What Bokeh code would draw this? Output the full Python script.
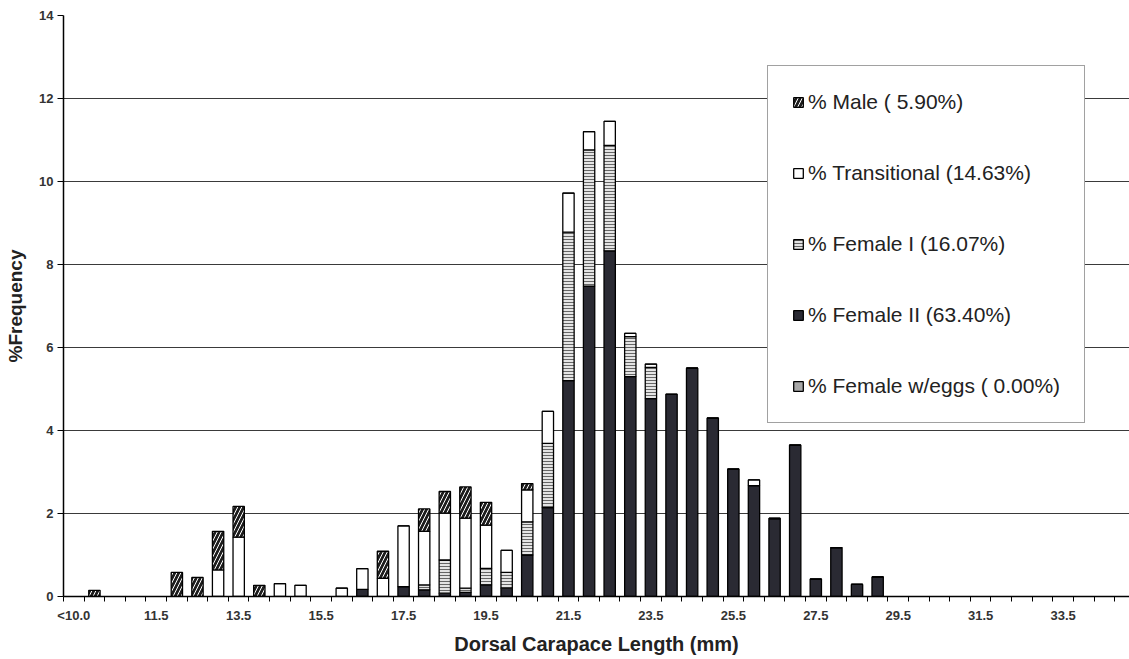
from bokeh.plotting import figure
from bokeh.models import ColumnDataSource, FixedTicker, Legend, LegendItem, Range1d, CDSView, BooleanFilter
from bokeh.embed import file_html
from bokeh.resources import INLINE

# ---------------- data ----------------
cats = ["<10.0", "10.0", "10.5", "11.0", "11.5", "12.0", "12.5", "13.0", "13.5", "14.0",
        "14.5", "15.0", "15.5", "16.0", "16.5", "17.0", "17.5", "18.0", "18.5", "19.0",
        "19.5", "20.0", "20.5", "21.0", "21.5", "22.0", "22.5", "23.0", "23.5", "24.0",
        "24.5", "25.0", "25.5", "26.0", "26.5", "27.0", "27.5", "28.0", "28.5", "29.0",
        "29.5", "30.0", "30.5", "31.0", "31.5", "32.0", "32.5", "33.0", "33.5", "34.0",
        "34.5", "35.0"]

male = [0, 0.15, 0, 0, 0, 0.58, 0.46, 0.93, 0.74, 0.27,
        0, 0, 0, 0, 0, 0.65, 0, 0.54, 0.52, 0.75,
        0.55, 0, 0.15, 0, 0, 0, 0, 0, 0, 0,
        0, 0, 0, 0, 0, 0, 0, 0, 0, 0,
        0, 0, 0, 0, 0, 0, 0, 0, 0, 0, 0, 0]

transitional = [0, 0, 0, 0, 0, 0, 0, 0.64, 1.43, 0,
                0.31, 0.27, 0, 0.20, 0.50, 0.44, 1.46, 1.29, 1.13, 1.69,
                1.04, 0.53, 0.77, 0.77, 0.94, 0.44, 0.58, 0.08, 0.08, 0,
                0, 0, 0, 0.14, 0, 0, 0, 0, 0, 0,
                0, 0, 0, 0, 0, 0, 0, 0, 0, 0, 0, 0]

female1 = [0, 0, 0, 0, 0, 0, 0, 0, 0, 0,
           0, 0, 0, 0, 0, 0, 0, 0.12, 0.80, 0.10,
           0.40, 0.38, 0.80, 1.55, 3.58, 3.28, 2.54, 0.96, 0.75, 0,
           0, 0, 0, 0, 0, 0, 0, 0, 0, 0,
           0, 0, 0, 0, 0, 0, 0, 0, 0, 0, 0, 0]

female2 = [0, 0, 0, 0, 0, 0, 0, 0, 0, 0,
           0, 0, 0, 0, 0.17, 0, 0.24, 0.16, 0.08, 0.10,
           0.28, 0.20, 1.00, 2.14, 5.20, 7.48, 8.33, 5.30, 4.77, 4.87,
           5.50, 4.30, 3.07, 2.67, 1.88, 3.65, 0.42, 1.18, 0.29, 0.47,
           0, 0, 0, 0, 0, 0, 0, 0, 0, 0, 0, 0]

female_eggs = [0] * 52

legend_labels = ["% Male ( 5.90%)", "% Transitional (14.63%)", "% Female I (16.07%)",
                 "% Female II (63.40%)", "% Female w/eggs ( 0.00%)"]
yticks = [0, 2, 4, 6, 8, 10, 12, 14]
label_every = 4

# ---------------- figure ----------------
xpos = [i + 0.5 for i in range(len(cats))]
src = ColumnDataSource(dict(x=xpos, male=male, trans=transitional, fem1=female1,
                            fem2=female2, eggs=female_eggs))
totals = [a + b + c + d + e for a, b, c, d, e in zip(male, transitional, female1, female2, female_eggs)]
view = CDSView(filter=BooleanFilter([t > 0 for t in totals]))

FONT = "Liberation Sans"
p = figure(width=1129, height=659, x_range=Range1d(0, 51.72), y_range=Range1d(0, 14),
           output_backend="svg", toolbar_location=None,
           min_border_left=63, min_border_right=0, min_border_top=15, min_border_bottom=63)
p.background_fill_color = "white"
p.border_fill_color = "white"
p.outline_line_color = None

rs = p.vbar_stack(["eggs", "fem2", "fem1", "trans", "male"], x="x", width=0.55, source=src, view=view,
                  fill_color=["#a8a8a8", "#2a2a33", "#e4e4e4", "white", "#1e1e1e"],
                  line_color="black", line_width=1.3,
                  hatch_pattern=[" ", " ", "-", " ", "/"],
                  hatch_color=["#777777", "#777777", "#666666", "#777777", "white"],
                  hatch_scale=[4, 4, 3, 4, 8],
                  hatch_weight=[1, 1, 1, 1, 1.0])
r_eggs, r_f2, r_f1, r_tr, r_m = rs

# x axis
xa = p.xaxis[0]
major = [i + 0.5 for i in range(0, len(cats), label_every)]
xa.ticker = FixedTicker(ticks=major, minor_ticks=list(range(0, len(cats) + 1)))
xa.major_label_overrides = {i + 0.5: cats[i] for i in range(0, len(cats), label_every)}
xa.major_tick_out = 0
xa.major_tick_in = 0
xa.minor_tick_out = 5
xa.minor_tick_in = 0
xa.minor_tick_line_color = "black"
xa.axis_line_color = "black"
xa.axis_line_width = 1.5
xa.axis_label = "Dorsal Carapace Length (mm)"
xa.axis_label_text_font = FONT
xa.axis_label_text_font_size = "20px"
xa.axis_label_text_font_style = "bold"
xa.axis_label_text_color = "#222222"
xa.axis_label_standoff = 7
xa.major_label_text_font = FONT
xa.major_label_text_font_size = "13px"
xa.major_label_text_font_style = "bold"
xa.major_label_text_color = "#333333"
xa.major_label_standoff = 6

# y axis
ya = p.yaxis[0]
ya.ticker = FixedTicker(ticks=yticks)
ya.major_tick_out = 6
ya.major_tick_in = 0
ya.minor_tick_out = 0
ya.minor_tick_in = 0
ya.axis_line_color = "black"
ya.axis_line_width = 1.5
ya.major_tick_line_color = "black"
ya.axis_label = "%Frequency"
ya.axis_label_text_font = FONT
ya.axis_label_text_font_size = "19px"
ya.axis_label_text_font_style = "bold"
ya.axis_label_text_color = "#222222"
ya.axis_label_standoff = 10
ya.major_label_text_font = FONT
ya.major_label_text_font_size = "13px"
ya.major_label_text_font_style = "bold"
ya.major_label_text_color = "#333333"
ya.major_label_standoff = 4

p.xgrid.visible = False
p.ygrid.ticker = FixedTicker(ticks=yticks)
p.ygrid.grid_line_color = "#3a3a3a"
p.ygrid.grid_line_width = 1

legend = Legend(items=[LegendItem(label=legend_labels[0], renderers=[r_m]),
                       LegendItem(label=legend_labels[1], renderers=[r_tr]),
                       LegendItem(label=legend_labels[2], renderers=[r_f1]),
                       LegendItem(label=legend_labels[3], renderers=[r_f2]),
                       LegendItem(label=legend_labels[4], renderers=[r_eggs])],
                location=(704, 173))
legend.label_text_font = FONT
legend.label_text_font_size = "21px"
legend.label_text_color = "#222222"
legend.glyph_width = 12
legend.glyph_height = 12
legend.label_height = 24
legend.spacing = 47
legend.padding = 24
legend.margin = 0
legend.label_standoff = 4
legend.border_line_color = "#444444"
legend.border_line_width = 1
legend.background_fill_color = "white"
legend.background_fill_alpha = 1
p.add_layout(legend)

open("out.html", "w").write(file_html(p, INLINE))
